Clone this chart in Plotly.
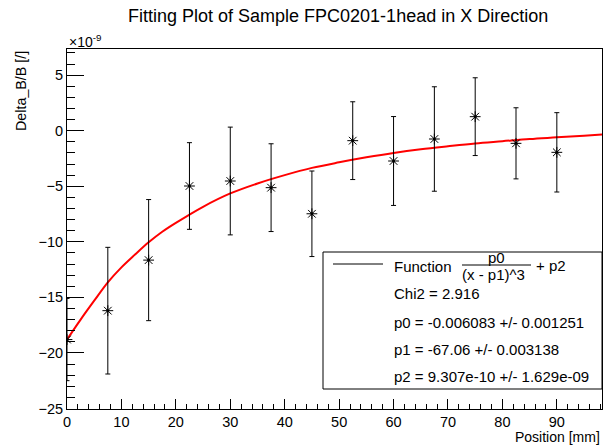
import plotly.graph_objects as go

# ---- data (values in units of 1e-9) ----
positions = [0, 7.5, 15, 22.5, 30, 37.5, 45, 52.5, 60, 67.5, 75, 82.5, 90]
delta_b = [-18.8, -16.2, -11.65, -4.98, -4.53, -5.13, -7.48, -0.9, -2.73, -0.75, 1.26, -1.14, -1.95]
delta_err = [3.7, 5.7, 5.45, 3.9, 4.85, 3.95, 3.85, 3.5, 4.0, 4.7, 3.5, 3.2, 3.57]

fit_x = [0, 2.5, 5, 7.5, 10, 12.5, 15, 17.5, 20, 25, 30, 35, 40, 45, 50, 55, 60, 65, 70, 75, 80, 85, 90, 95, 98.3]
fit_y = [-18.8, -17.0, -15.3, -13.65, -12.3, -11.15, -10.05, -9.1, -8.3, -6.85, -5.65, -4.75, -4.0, -3.35,
         -2.85, -2.4, -2.0, -1.67, -1.4, -1.15, -0.95, -0.75, -0.6, -0.45, -0.35]

title_text = "Fitting Plot of Sample FPC0201-1head in X Direction"
legend_lines = ["Chi2 = 2.916", "p0 = -0.006083 +/- 0.001251", "p1 = -67.06 +/- 0.003138", "p2 = 9.307e-10 +/- 1.629e-09"]

W, H = 604, 446
L, R, T, B = 67, 602, 49, 409
FONT = "Liberation Sans"


def px(x):
    return (x - L) / (R - L)


def py(y):
    return (B - y) / (B - T)


fig = go.Figure()
fig.add_trace(go.Scatter(
    x=fit_x, y=fit_y, mode="lines", line=dict(color="red", width=2, shape="spline"),
    showlegend=False, hoverinfo="skip"))
fig.add_trace(go.Scatter(
    x=positions, y=delta_b, mode="markers",
    marker=dict(symbol="asterisk-open", size=9, color="black", line=dict(color="black", width=1)),
    error_y=dict(type="data", array=delta_err, visible=True, color="black", thickness=1, width=2.5),
    showlegend=False))
fig.add_trace(go.Scatter(
    x=positions, y=delta_b, mode="markers",
    marker=dict(symbol="circle", size=3, color="black"), showlegend=False, hoverinfo="skip"))

axis_common = dict(showgrid=False, zeroline=False, showline=True, linecolor="black", linewidth=1,
                   mirror=True, ticks="inside", tickcolor="black", tickwidth=1,
                   tickfont=dict(family=FONT, size=14.5, color="black"))

fig.update_layout(
    width=W, height=H, margin=dict(l=L, r=W - R, t=T, b=H - B, pad=0),
    paper_bgcolor="white", plot_bgcolor="white",
    font=dict(family=FONT, color="black"),
    xaxis=dict(range=[0, 98.3], dtick=10, tick0=0, ticklen=10,
               minor=dict(ticks="inside", ticklen=5, dtick=2, tickcolor="black", tickwidth=1),
               **axis_common),
    yaxis=dict(range=[-25.05, 7.35], dtick=5, tick0=0, ticklen=17,
               minor=dict(ticks="inside", ticklen=8, dtick=1, tickcolor="black", tickwidth=1),
               **axis_common),
    showlegend=False,
)

ann = []
ann.append(dict(text=title_text, x=px(338), y=py(16), xref="paper", yref="paper",
                xanchor="center", yanchor="middle", showarrow=False,
                font=dict(family=FONT, size=18, color="black")))
ann.append(dict(text="Position [mm]", x=1.0, y=py(437), xref="paper", yref="paper",
                xanchor="right", yanchor="middle", showarrow=False,
                font=dict(family=FONT, size=14, color="black")))
ann.append(dict(text="Delta_B/B [/]", x=px(21), y=1.0, xref="paper", yref="paper",
                xanchor="center", yanchor="top", textangle=-90, showarrow=False,
                font=dict(family=FONT, size=14.3, color="black")))
ann.append(dict(text="×10<sup>-9</sup>", x=px(67), y=py(41), xref="paper", yref="paper",
                xanchor="left", yanchor="middle", showarrow=False,
                font=dict(family=FONT, size=14, color="black")))

# legend box
fig.add_shape(type="rect", xref="paper", yref="paper", x0=px(323), x1=1.0, y0=py(389), y1=py(252),
              line=dict(color="black", width=1), fillcolor="white", layer="above")
fig.add_shape(type="line", xref="paper", yref="paper", x0=px(333), x1=px(383), y0=py(264), y1=py(264),
              line=dict(color="black", width=1), layer="above")
fig.add_shape(type="line", xref="paper", yref="paper", x0=px(462), x1=px(531), y0=py(265), y1=py(265),
              line=dict(color="black", width=1), layer="above")
ann.append(dict(text="Function", x=px(392), y=py(266), xref="paper", yref="paper",
                xanchor="left", yanchor="middle", showarrow=False,
                font=dict(family=FONT, size=15, color="black")))
ann.append(dict(text="p0", x=px(496), y=py(257), xref="paper", yref="paper",
                xanchor="center", yanchor="middle", showarrow=False,
                font=dict(family=FONT, size=15, color="black")))
ann.append(dict(text="(x - p1)^3", x=px(493), y=py(274), xref="paper", yref="paper",
                xanchor="center", yanchor="middle", showarrow=False,
                font=dict(family=FONT, size=15, color="black")))
ann.append(dict(text="+ p2", x=px(534), y=py(265), xref="paper", yref="paper",
                xanchor="left", yanchor="middle", showarrow=False,
                font=dict(family=FONT, size=15, color="black")))
for txt, yy in zip(legend_lines, [293, 322, 349, 376]):
    ann.append(dict(text=txt, x=px(392), y=py(yy), xref="paper", yref="paper",
                    xanchor="left", yanchor="middle", showarrow=False,
                    font=dict(family=FONT, size=15, color="black")))

fig.update_layout(annotations=ann)
fig.write_html("out.html")
